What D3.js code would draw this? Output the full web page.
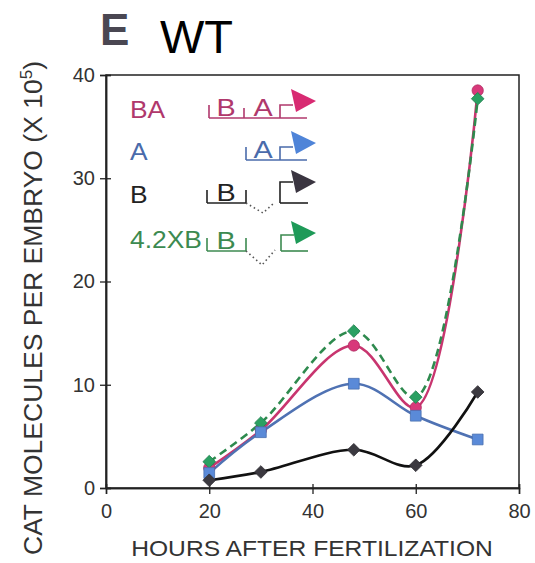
<!DOCTYPE html>
<html>
<head>
<meta charset="utf-8">
<script src="https://cdn.jsdelivr.net/npm/d3@7"></script>
<style>
  body { margin: 0; background: #fff; }
  svg { display: block; font-family: "Liberation Sans", Arial, sans-serif; }
</style>
</head>
<body>
<svg class="chart" width="535" height="563"></svg>
<script>
// data (CAT molecules per embryo, x 10^5)
const hours = [20, 30, 48, 60, 72];
const baValues = [1.95, 5.6, 13.8, 7.8, 38.5];
const aValues = [1.45, 5.4, 10.1, 7.0, 4.7];
const bValues = [0.75, 1.55, 3.7, 2.2, 9.3];
const xbValues = [2.55, 6.3, 15.2, 8.8, 37.7];
const seriesNames = ['BA', 'A', 'B', '4.2XB'];
const xTicks = [0, 20, 40, 60, 80];
const yTicks = [0, 10, 20, 30, 40];

const svg = d3.select('.chart');
const plotLeft = 106, plotRight = 519, plotTop = 75, plotBottom = 488;

const x = d3.scaleLinear().domain([0, 80]).range([plotLeft, plotRight]);
const y = d3.scaleLinear().domain([0, 40]).range([plotBottom, plotTop]);

// frame
svg.append('rect')
  .attr('x', plotLeft).attr('y', plotTop)
  .attr('width', plotRight - plotLeft).attr('height', plotBottom - plotTop)
  .attr('fill', 'none').attr('stroke', '#222').attr('stroke-width', 1.5);

// axes: outer ticks with labels, plus short inner ticks
svg.append('g')
  .attr('transform', `translate(0,${plotBottom})`)
  .call(d3.axisBottom(x).tickValues(xTicks).tickSize(6).tickPadding(10));
svg.append('g')
  .attr('transform', `translate(0,${plotBottom})`)
  .call(d3.axisBottom(x).tickValues(xTicks).tickSize(-4).tickFormat(''));
svg.append('g')
  .attr('transform', `translate(${plotLeft},0)`)
  .call(d3.axisLeft(y).tickValues(yTicks).tickSize(6).tickPadding(5));
svg.append('g')
  .attr('transform', `translate(${plotLeft},0)`)
  .call(d3.axisLeft(y).tickValues(yTicks).tickSize(-5).tickFormat(''));

svg.selectAll('.domain').attr('stroke', '#222').attr('stroke-width', 1.5);
svg.selectAll('.tick line').attr('stroke', '#222').attr('stroke-width', 1.3);
svg.selectAll('.tick text')
  .attr('font-family', '"Liberation Sans", Arial, sans-serif')
  .attr('font-size', 20).attr('fill', '#333');

// axis titles
svg.append('text')
  .attr('transform', `translate(312,556) scale(1.12,1)`)
  .attr('text-anchor', 'middle')
  .attr('font-size', 22).attr('fill', '#333')
  .text('HOURS AFTER FERTILIZATION');

const yTitle = svg.append('text')
  .attr('transform', 'translate(42,308) rotate(-90)')
  .attr('text-anchor', 'middle')
  .attr('font-size', 26.5).attr('fill', '#333');
yTitle.append('tspan').text('CAT MOLECULES PER EMBRYO (X 10');
yTitle.append('tspan').attr('font-size', 17).attr('dy', -10).text('5');
yTitle.append('tspan').attr('dy', 10).text(')');

// panel title
svg.append('text')
  .attr('x', 100).attr('y', 45)
  .attr('font-size', 44).attr('font-weight', 'bold').attr('fill', '#4a4752')
  .text('E');
svg.append('text')
  .attr('x', 160).attr('y', 53)
  .attr('font-size', 47).attr('fill', '#000')
  .text('WT');

// series
const series = [
  {name: seriesNames[0], values: baValues, line: '#c8356f', fill: '#d8387a', symbol: 'circle'},
  {name: seriesNames[3], values: xbValues, line: '#2e8a4e', fill: '#2aa062', symbol: 'diamond', dash: '8,5'},
  {name: seriesNames[1], values: aValues, line: '#4f72b3', fill: '#5a8ad8', symbol: 'square'},
  {name: seriesNames[2], values: bValues, line: '#111', fill: '#3b3940', symbol: 'diamond'},
];

const line = d3.line()
  .x(d => x(d[0]))
  .y(d => y(d[1]))
  .curve(d3.curveCatmullRom.alpha(0.5));

series.forEach(s => {
  const pts = hours.map((h, i) => [h, s.values[i]]);
  svg.append('path')
    .attr('d', line(pts))
    .attr('fill', 'none')
    .attr('stroke', s.line)
    .attr('stroke-width', 2.6)
    .attr('stroke-dasharray', s.dash || null);
});

const symbolFor = {
  circle: d3.symbol().type(d3.symbolCircle).size(100),
  square: d3.symbol().type(d3.symbolSquare).size(115),
  diamond: d3.symbol().type(d3.symbolSquare).size(80),
};

series.forEach(s => {
  svg.append('g').selectAll('path')
    .data(hours.map((h, i) => [h, s.values[i]]))
    .enter().append('path')
      .attr('d', symbolFor[s.symbol]())
      .attr('transform', d => `translate(${x(d[0])},${y(d[1])})` + (s.symbol === 'diamond' ? ' rotate(45)' : ''))
      .attr('fill', s.fill)
      .attr('stroke', d3.color(s.fill).darker(0.6))
      .attr('stroke-width', 0.8);
});

// legend with promoter diagrams
const legendRows = [
  {name: seriesNames[0], color: '#b0386c', arrow: '#d82a72', textY: 118, base: 118, ay: 101, pTop: 105, px: 280,
   under: [209, 307], ticks: [[209, 13], [244, 10]], letters: [['B', 226], ['A', 263]]},
  {name: seriesNames[1], color: '#4a6bab', arrow: '#4f84d8', textY: 160, base: 160, ay: 143, pTop: 147, px: 280,
   under: [246, 307], ticks: [[246, 13]], letters: [['A', 263]]},
  {name: seriesNames[2], color: '#222', arrow: '#3a3540', textY: 203, base: 203, ay: 182, pTop: 182, px: 280,
   under: [207, 246], ticks: [[207, 13], [246, 13]], letters: [['B', 226]], gap: [263, 213, 275, 202], foot: 308},
  {name: seriesNames[3], color: '#3c8a50', arrow: '#1e9a58', textY: 248, base: 251, ay: 233, pTop: 235, px: 281,
   under: [207, 246], ticks: [[207, 13], [246, 13]], letters: [['B', 226]], gap: [262, 265, 275, 250], foot: 308},
];

const legend = svg.append('g').attr('font-size', 24);
legendRows.forEach(r => {
  const g = legend.append('g');
  g.append('text')
    .attr('transform', `translate(130,${r.textY}) scale(1.1,1)`)
    .attr('fill', r.color).text(r.name);

  const st = sel => sel.attr('stroke', r.color).attr('stroke-width', 1.6).attr('fill', 'none');
  g.append('line').attr('x1', r.under[0]).attr('x2', r.under[1])
    .attr('y1', r.base).attr('y2', r.base).call(st);
  r.ticks.forEach(t => {
    g.append('line').attr('x1', t[0]).attr('x2', t[0])
      .attr('y1', r.base).attr('y2', r.base - t[1]).call(st);
  });
  r.letters.forEach(l => {
    g.append('text')
      .attr('transform', `translate(${l[1]},${r.base - 2}) scale(1.2,1)`)
      .attr('text-anchor', 'middle').attr('font-size', 24).attr('fill', r.color).text(l[0]);
  });
  if (r.gap) {
    g.append('path')
      .attr('d', `M${r.under[1]},${r.base}L${r.gap[0]},${r.gap[1]}L${r.gap[2]},${r.gap[3]}`)
      .attr('fill', 'none').attr('stroke', '#555').attr('stroke-width', 1.6)
      .attr('stroke-dasharray', '1.5,3');
    g.append('line').attr('x1', r.px).attr('x2', r.foot)
      .attr('y1', r.base).attr('y2', r.base).call(st);
  }
  // bent promoter arrow
  g.append('path')
    .attr('d', `M${r.px},${r.base}V${r.pTop}H${r.px + 13}`)
    .call(st);
  g.append('path')
    .attr('d', `M291,${r.ay - 12}L316,${r.ay}L296,${r.ay + 11}Z`)
    .attr('fill', r.arrow);
});
</script>
</body>
</html>
